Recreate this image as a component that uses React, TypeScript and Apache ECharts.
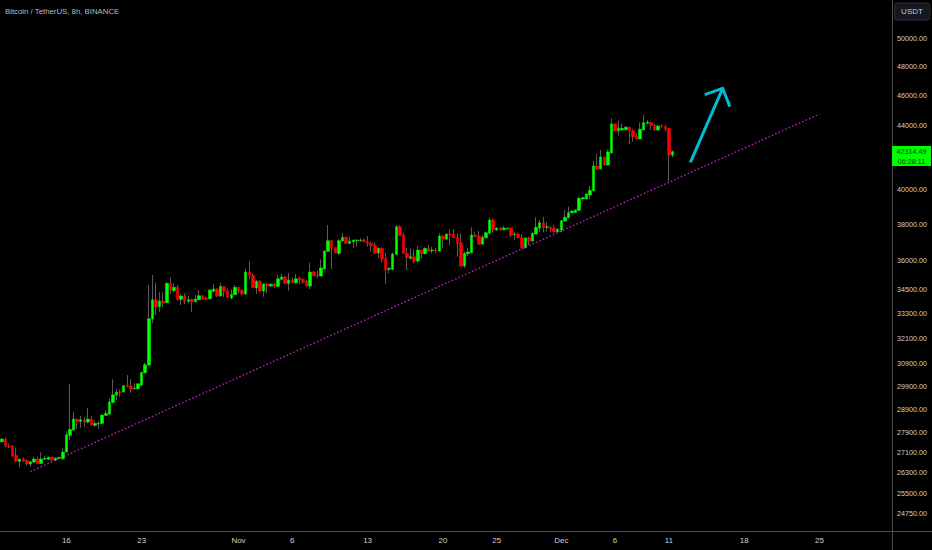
import React, { useEffect, useRef } from "react";
import * as echarts from "echarts";

const opens = [
  27530, 27630, 27355, 27355, 26982, 26743, 26834, 26782, 26636, 26715, 26834, 26660, 26834, 26822, 26914, 26794,
  26860, 26846, 27114, 27793, 28012, 28472, 28375, 28443, 28346, 28472, 28208, 28262, 28290, 28627, 28684, 29185,
  29503, 29648, 29635, 29913, 29900, 29780, 29780, 29944, 30495, 30845, 33020, 33978, 33628, 33913, 33828, 34815,
  34434, 34609, 33998, 34166, 33898, 33998, 33878, 33978, 34181, 34080, 34028, 34403, 34522, 34166, 34640, 34434,
  34064, 34232, 34609, 34455, 34268, 35402, 35230, 34574, 34918, 34420, 34779, 34676, 34779, 34660, 35021, 35142,
  34815, 34985, 34846, 35090, 35021, 34933, 34676, 35402, 35246, 35194, 35560, 36505, 37083, 36700, 36397, 37066,
  37271, 36940, 37027, 37094, 37094, 37121, 37027, 36940, 36850, 36413, 36667, 36128, 35544, 35544, 36344, 37860,
  37397, 36397, 36126, 36215, 35984, 36575, 36376, 36667, 36537, 36575, 36521, 37342, 37176, 37453, 37453, 37271,
  36972, 35718, 36376, 36430, 37397, 37342, 36900, 37249, 37490, 38238, 37675, 37787, 37692, 37748, 37787, 37414,
  37453, 37249, 36700, 37232, 37066, 37453, 37787, 38085, 37827, 37827, 37787, 37580, 37675, 38182, 38370, 38654,
  38670, 38790, 39447, 39447, 39680, 39935, 41425, 41240, 41980, 41485, 42250, 44085, 43650, 43694, 43713, 43868,
  43650, 43309, 43115, 43694, 44130, 44170, 44020, 43694, 43975, 43910, 43803, 42105,
];
const closes = [
  27640, 27355, 27330, 26954, 26743, 26834, 26743, 26636, 26727, 26834, 26648, 26834, 26860, 26914, 26794, 26874,
  26900, 27114, 27817, 28041, 28472, 28359, 28443, 28346, 28472, 28220, 28290, 28290, 28640, 28712, 29198, 29516,
  29635, 29620, 29913, 29869, 29766, 29810, 30000, 30512, 30858, 33035, 33978, 33628, 33913, 33798, 34815, 34470,
  34609, 33998, 34166, 33878, 33978, 33878, 34013, 34181, 34013, 33998, 34470, 34522, 34166, 34660, 34403, 34113,
  34251, 34609, 34420, 34268, 35402, 35230, 34590, 34918, 34420, 34779, 34676, 34763, 34660, 35052, 35142, 34815,
  34985, 34846, 35052, 34985, 34880, 34676, 35402, 35210, 35194, 35613, 36521, 37083, 36667, 36430, 37083, 37271,
  36940, 37066, 37121, 37121, 37121, 37027, 36918, 36810, 36397, 36667, 36090, 35507, 35597, 36360, 37860, 37358,
  36397, 36160, 36215, 35984, 36575, 36376, 36667, 36521, 36575, 36537, 37342, 37176, 37453, 37414, 37249, 36940,
  35718, 36397, 36467, 37397, 37305, 36900, 37271, 37525, 38238, 37715, 37787, 37675, 37787, 37787, 37380, 37453,
  37249, 36700, 37232, 37066, 37490, 37827, 38085, 37805, 37860, 37715, 37565, 37715, 38197, 38393, 38654, 38750,
  38809, 39488, 39525, 39740, 39958, 41425, 41240, 41980, 41485, 42292, 44085, 43650, 43803, 43803, 43868, 43630,
  43245, 43115, 43740, 44170, 44197, 44000, 43694, 43955, 43935, 43760, 42105, 42314,
];
const lows = [
  27500, 27300, 27270, 26926, 26727, 26506, 26727, 26585, 26530, 26688, 26636, 26648, 26794, 26794, 26766, 26766,
  26846, 26820, 27100, 27600, 28000, 28054, 28108, 28150, 28290, 28190, 28150, 28054, 28262, 28610, 28640, 29141,
  29285, 29430, 29620, 29842, 29603, 29752, 29752, 29900, 30466, 30820, 32809, 33217, 33380, 33628, 33798, 34253,
  34384, 33928, 33713, 33763, 33828, 33380, 33848, 33963, 33963, 33928, 33998, 34353, 34130, 34130, 34113, 34048,
  34013, 34217, 34303, 34217, 34217, 35037, 34558, 34268, 34370, 34130, 34303, 34640, 34558, 34640, 34985, 34779,
  34434, 34815, 34779, 34779, 34779, 34640, 34522, 35178, 35073, 35160, 35544, 36485, 35560, 36400, 36306, 37027,
  36900, 36900, 36667, 36755, 37027, 36994, 36755, 36485, 36360, 36126, 35893, 34779, 35335, 35507, 36306, 37342,
  36360, 35507, 36074, 35862, 35893, 36126, 36344, 36485, 36397, 36397, 36485, 36667, 37121, 36810, 37215, 36215,
  35683, 35613, 36253, 36397, 37271, 36850, 36850, 37215, 37453, 37525, 37635, 37635, 37675, 37715, 37271, 37121,
  37215, 36650, 36667, 36850, 37027, 37436, 37545, 37545, 37580, 37545, 37525, 37545, 37545, 38142, 38336, 38636,
  38636, 38750, 39290, 39430, 39447, 39900, 41179, 41220, 41440, 41440, 42168, 43585, 43330, 43650, 43694, 42797,
  42943, 43095, 43095, 43680, 44085, 43694, 43630, 43650, 43803, 43585, 40470, 41960,
];
const highs = [
  27680, 27710, 27465, 27395, 27300, 26860, 26900, 26820, 26766, 26926, 26926, 27100, 26966, 26926, 26926, 26900,
  26926, 27260, 27958, 29989, 28782, 28490, 28600, 28570, 28953, 28600, 28430, 28388, 28683, 28854, 29360, 30197,
  29766, 29750, 29944, 30390, 30197, 30020, 30020, 30540, 30950, 34728, 35246, 34846, 34353, 34353, 34846, 35125,
  34815, 34728, 34268, 34303, 34166, 34048, 34217, 34470, 34217, 34130, 34506, 34780, 34558, 34846, 34676, 34558,
  34506, 34728, 34640, 34506, 35560, 36000, 35335, 34985, 34985, 34815, 34846, 34815, 34846, 35246, 35300, 35194,
  35365, 35125, 35282, 35160, 35073, 34985, 35893, 35454, 35470, 36074, 36575, 37956, 37121, 36720, 37160, 37490,
  37305, 37271, 37160, 37160, 37215, 37193, 37342, 37027, 36994, 36720, 36720, 36430, 35650, 36430, 37956, 37956,
  37525, 36667, 36667, 36610, 36795, 36610, 36720, 36850, 36755, 36700, 37490, 37397, 37490, 37730, 37715, 37490,
  37490, 36485, 36667, 37827, 37590, 37635, 37397, 37580, 38393, 38336, 37827, 37860, 37900, 37827, 37827, 37580,
  37525, 37453, 37271, 37305, 37545, 38393, 38238, 38430, 38125, 37860, 37956, 37770, 38238, 38809, 39000, 38809,
  38850, 39585, 39585, 39780, 40230, 41750, 42168, 42418, 42000, 42418, 44458, 44130, 44300, 44130, 43955, 43910,
  43740, 43480, 44170, 44700, 44346, 44236, 44085, 44020, 44065, 44020, 43830, 42380,
];

const slotCount = 249;
const dateTickSlots = [18, 39, 66, 81, 102, 123, 138, 156, 171, 186, 207, 228];
const dateTickLabels = ["16", "23", "Nov", "6", "13", "20", "25", "Dec", "6", "11", "18", "25"];
const priceTicks = [
  24750, 25500, 26300, 27100, 27900, 28900, 29900, 30900, 32100, 33300, 34500, 36000, 38000, 40000, 44000, 46000,
  48000, 50000,
];

// trend line and hand drawn arrow, as [slot, price]
const trendLine = [
  [8, 26340],
  [228, 44740],
];
const arrowShaft = [
  [192, 41652],
  [201, 46479],
];
const arrowHead = [
  [196, 46040],
  [201, 46479],
  [203, 45231],
];

const lastPrice = "42314.49";
const countdown = "06:28:11";
const titleText = "Bitcoin / TetherUS, 8h, BINANCE";

const FONT = '"Liberation Sans", sans-serif';
const UP = "#00ff00";
const DOWN = "#ff0000";
const WICK = "#5a5a5a";
const AXIS = "#4c4c4c";
const LABEL = "#d0d0d0";
const ARROW = "#00bcd4";

const categories = Array.from({ length: slotCount }, (_, i) => {
  const at = dateTickSlots.indexOf(i);
  return at >= 0 ? dateTickLabels[at] : String(i);
});

const wickData = opens.map((o, i) => [o, closes[i], lows[i], highs[i]]);
const bodyData = opens.map((o, i) => [o, closes[i], Math.min(o, closes[i]), Math.max(o, closes[i])]);

const App = () => {
  const chartRef = useRef<HTMLDivElement>(null);

  useEffect(() => {
    const myChart = echarts.init(chartRef.current!, null, { renderer: "svg" });
    const option = {
      animation: false,
      backgroundColor: "#000000",
      title: {
        text: titleText,
        left: 5,
        top: 7,
        padding: 0,
        textStyle: { color: "#bcbcbc", fontSize: 7.8, fontWeight: "normal", fontFamily: FONT },
      },
      grid: { left: 0, top: 0, width: 893, height: 531.5, outerBoundsMode: "none" },
      xAxis: {
        type: "category",
        data: categories,
        boundaryGap: true,
        axisLine: { show: false },
        axisTick: { show: false },
        splitLine: { show: false },
        axisLabel: {
          color: LABEL,
          fontSize: 8,
          fontFamily: FONT,
          margin: 5,
          hideOverlap: false,
          interval: (index: number) => dateTickSlots.includes(index),
        },
      },
      yAxis: {
        type: "log",
        logBase: 10,
        position: "right",
        min: 24104,
        max: 52974,
        axisLine: { show: false },
        axisTick: { show: false },
        splitLine: { show: false },
        minorTick: { show: false },
        minorSplitLine: { show: false },
        axisLabel: {
          color: LABEL,
          fontSize: 7.2,
          fontFamily: FONT,
          margin: 4,
          customValues: priceTicks,
          formatter: (v: number) => Math.round(v).toFixed(2),
        },
      },
      series: [
        {
          name: "wick",
          type: "candlestick",
          barWidth: 1,
          data: wickData,
          silent: true,
          itemStyle: { color: WICK, color0: WICK, borderColor: WICK, borderColor0: WICK, borderWidth: 1 },
        },
        {
          name: "body",
          type: "candlestick",
          barWidth: 3,
          data: bodyData,
          silent: true,
          itemStyle: { color: UP, color0: DOWN, borderColor: UP, borderColor0: DOWN, borderWidth: 0.5 },
        },
        {
          name: "trend",
          type: "line",
          data: trendLine,
          symbol: "none",
          silent: true,
          lineStyle: { color: "#d020d0", width: 1.3, type: [1.5, 2.2] },
        },
        {
          name: "arrowShaft",
          type: "line",
          data: arrowShaft,
          symbol: "none",
          silent: true,
          lineStyle: { color: ARROW, width: 3, cap: "butt" },
        },
        {
          name: "arrowHead",
          type: "line",
          data: arrowHead,
          symbol: "none",
          silent: true,
          lineStyle: { color: ARROW, width: 3, join: "miter" },
        },
      ],
      graphic: [
        { type: "line", shape: { x1: 892.5, y1: 0, x2: 892.5, y2: 550 }, style: { stroke: AXIS, lineWidth: 1 } },
        { type: "line", shape: { x1: 0, y1: 531.5, x2: 932, y2: 531.5 }, style: { stroke: AXIS, lineWidth: 1 } },
        {
          type: "rect",
          shape: { x: 894.5, y: 3, width: 35.5, height: 17, r: 2.5 },
          style: { fill: "#131722", stroke: "#2a2e39", lineWidth: 1 },
        },
        {
          type: "text",
          x: 912,
          y: 11.5,
          style: {
            text: "USDT",
            fill: "#c8ccd4",
            fontSize: 8,
            fontFamily: FONT,
            align: "center",
            verticalAlign: "middle",
          },
        },
        { type: "rect", shape: { x: 892, y: 146, width: 39, height: 20 }, style: { fill: UP } },
        {
          type: "text",
          x: 911.5,
          y: 151.5,
          style: {
            text: lastPrice,
            fill: "#0b3d0b",
            fontSize: 7.2,
            fontFamily: FONT,
            align: "center",
            verticalAlign: "middle",
          },
        },
        {
          type: "text",
          x: 911.5,
          y: 161,
          style: {
            text: countdown,
            fill: "#0b3d0b",
            fontSize: 7.2,
            fontFamily: FONT,
            align: "center",
            verticalAlign: "middle",
          },
        },
      ],
    };
    myChart.setOption(option);

    return () => {
      myChart.dispose();
    };
  }, []);

  return <div ref={chartRef} style={{ position: "fixed", left: 0, top: 0, width: 932, height: 550 }}></div>;
};

export default App;
